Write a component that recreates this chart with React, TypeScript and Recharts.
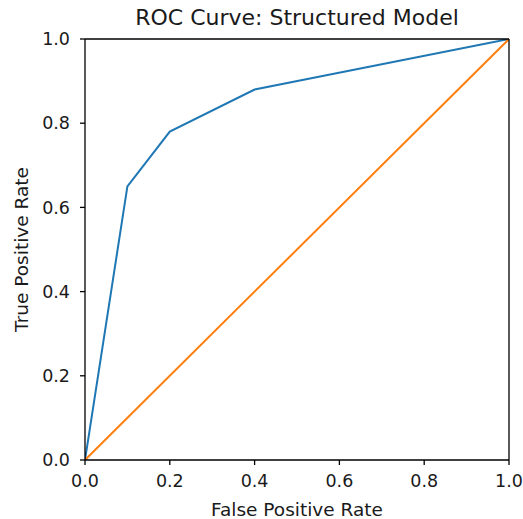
import React from 'react';
import { LineChart, Line, XAxis, YAxis, ReferenceLine, Label } from 'recharts';

const fpr = [0, 0.1, 0.2, 0.4, 1.0];
const tpr = [0, 0.65, 0.78, 0.88, 1.0];
const chanceX = [0, 1];
const chanceY = [0, 1];
const axisTicks = [0, 0.2, 0.4, 0.6, 0.8, 1.0];
const title = 'ROC Curve: Structured Model';
const xLabel = 'False Positive Rate';
const yLabel = 'True Positive Rate';

const rocData = fpr.map((x, i) => ({ x, y: tpr[i] }));
const chanceData = chanceX.map((x, i) => ({ x, y: chanceY[i] }));

const FONT = '"DejaVu Sans", sans-serif';
const tickStyle = { fontSize: 17.5, fill: '#1a1a1a', fontFamily: FONT };

export default function App() {
  return (
    <div style={{ position: 'absolute', left: 0, top: 0, width: 523, height: 519, background: '#fff' }}>
      <div
        style={{
          position: 'absolute',
          left: 85,
          width: 424,
          top: 7,
          textAlign: 'center',
          fontFamily: FONT,
          fontSize: 22,
          color: '#1a1a1a',
          lineHeight: '22px',
          whiteSpace: 'nowrap',
        }}
      >
        {title}
      </div>
      <LineChart width={523} height={519} margin={{ top: 39, right: 14, bottom: 0, left: 0 }}>
        <XAxis
          type="number"
          dataKey="x"
          domain={[0, 1]}
          ticks={axisTicks}
          tickFormatter={(v: number) => v.toFixed(1)}
          height={59}
          tickSize={5}
          tickMargin={10}
          tick={tickStyle}
          stroke="#000"
          strokeWidth={1.3}
          allowDataOverflow
        >
          <Label
            value={xLabel}
            position="insideBottom"
            offset={3.5}
            style={{ fontSize: 18.5, fill: '#1a1a1a', fontFamily: FONT }}
          />
        </XAxis>
        <YAxis
          type="number"
          dataKey="y"
          domain={[0, 1]}
          ticks={axisTicks}
          tickFormatter={(v: number) => v.toFixed(1)}
          width={85}
          tickSize={5}
          tickMargin={10}
          tick={tickStyle}
          stroke="#000"
          strokeWidth={1.3}
          allowDataOverflow
        >
          <Label
            value={yLabel}
            position="insideLeft"
            angle={-90}
            offset={21}
            style={{ fontSize: 18.5, fill: '#1a1a1a', fontFamily: FONT, textAnchor: 'middle' }}
          />
        </YAxis>
        <Line
          data={rocData}
          dataKey="y"
          stroke="#1f77b4"
          strokeWidth={2}
          dot={false}
          isAnimationActive={false}
          type="linear"
        />
        <Line
          data={chanceData}
          dataKey="y"
          stroke="#ff7f0e"
          strokeWidth={2}
          dot={false}
          isAnimationActive={false}
          type="linear"
        />
        <ReferenceLine y={1} stroke="#000" strokeWidth={1.3} />
        <ReferenceLine x={1} stroke="#000" strokeWidth={1.3} />
      </LineChart>
    </div>
  );
}
